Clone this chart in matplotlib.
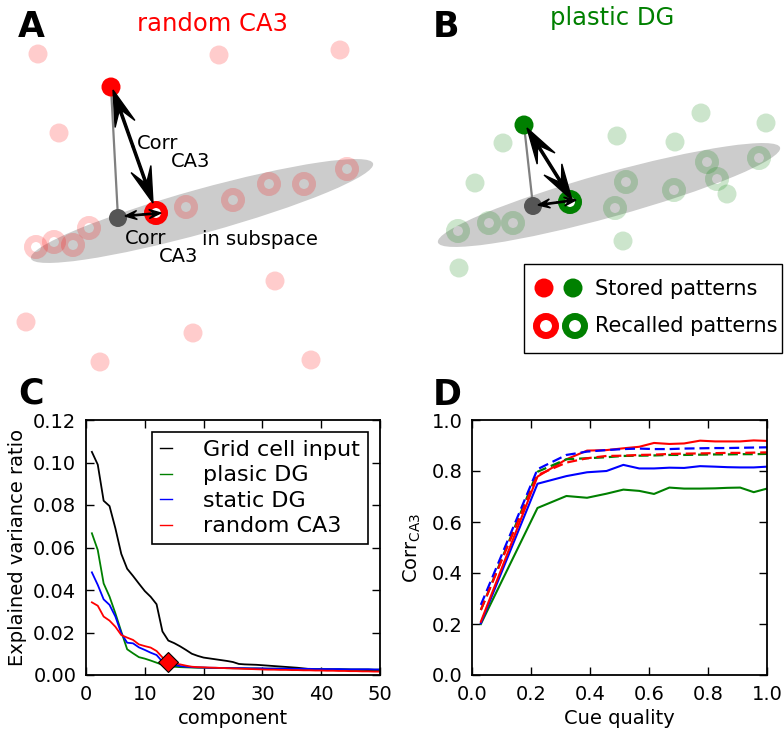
import matplotlib
matplotlib.use('Agg')
import matplotlib.pyplot as plt
from matplotlib.patches import Circle, Ellipse, Rectangle

plt.rcParams['font.family'] = ['DejaVu Sans']

# ---------------- schematic data (panels A, B), pixel space ----------------
a_bg_dots = [(38, 54), (219, 55), (340, 50), (59, 133), (275, 281), (26, 322),
             (193, 333), (100, 362), (311, 360)]
a_bg_rings = [(36, 247), (54, 242), (73, 245), (89, 228), (186, 207), (233, 200),
              (269, 184), (304, 184), (347, 169)]
a_stored = (111, 87)
a_recalled = (156, 213)
a_proj = (118, 218)
a_ellipse = (202, 211)

b_bg_dots = [(503, 143), (475, 183), (617, 136), (675, 142), (701, 113), (766, 123),
             (727, 194), (623, 241), (459, 268)]
b_bg_rings = [(458, 231), (489, 223), (513, 223), (615, 208), (626, 182), (674, 190),
              (707, 162), (717, 179), (759, 158)]
b_stored = (524, 125)
b_recalled = (570, 202)
b_proj = (533, 206)
b_ellipse = (609, 195)

# ---------------- panel C data ----------------
components = list(range(1, 51))
grid_input = [.105, .099, .082, .0795, .069, .057, .050, .0466, .043, .0395,
              .0368, .0333, .0205, .0162, .0150, .0135, .0118, .0100, .0090, .0082,
              .0078, .0074, .0070, .0066, .0061, .0052, .0050, .0049, .0048, .0046,
              .0044, .0042, .0040, .0038, .0036, .0034, .0031, .0028, .0027, .0026,
              .0026, .0025, .0025, .0025, .0024, .0024, .0024, .0023, .0023, .0022]
plastic_dg = [.0667, .0588, .0431, .0369, .029, .0204, .0121, .0102, .0084, .0077,
              .0068, .0058, .0048, .0042, .0039, .0037, .0036, .0035, .0034, .0034,
              .0033, .0033, .0033, .0032, .0032, .0032, .0031, .0031, .0031, .0030,
              .0030, .0030, .0030, .0029, .0029, .0029, .0028, .0028, .0028, .0028,
              .0027, .0027, .0027, .0027, .0026, .0026, .0026, .0026, .0025, .0025]
static_dg = [.0483, .0424, .0356, .0330, .0275, .0196, .0152, .0149, .0130, .0118,
             .0105, .0094, .0063, .0055, .0047, .0042, .0039, .0037, .0036, .0035,
             .0034, .0034, .0033, .0033, .0032, .0032, .0032, .0031, .0031, .0031,
             .0030, .0030, .0030, .0030, .0029, .0029, .0029, .0029, .0028, .0028,
             .0028, .0028, .0028, .0027, .0027, .0027, .0027, .0027, .0026, .0026]
random_ca3 = [.0342, .0326, .0275, .0256, .0227, .0188, .0176, .0165, .0144, .0136,
              .0129, .0113, .0083, .0063, .0055, .0050, .0044, .0039, .0037, .0036,
              .0035, .0034, .0033, .0032, .0031, .0030, .0029, .0028, .0027, .0026,
              .0025, .0025, .0024, .0024, .0023, .0023, .0022, .0022, .0021, .0021,
              .0020, .0020, .0019, .0019, .0018, .0018, .0017, .0017, .0016, .0016]
marked_component = 14
c_labels = ['Grid cell input', 'plasic DG', 'static DG', 'random CA3']

# ---------------- panel D data ----------------
cue_quality = [0.03, 0.222, 0.32, 0.39, 0.456, 0.513, 0.567, 0.617, 0.669, 0.719,
               0.773, 0.824, 0.866, 0.909, 0.955, 1.0]
green_solid = [0.200, 0.655, 0.702, 0.695, 0.711, 0.727, 0.722, 0.710, 0.735, 0.731,
               0.731, 0.732, 0.734, 0.735, 0.717, 0.731]
blue_solid = [0.203, 0.750, 0.780, 0.795, 0.800, 0.824, 0.810, 0.810, 0.813, 0.812,
              0.819, 0.817, 0.815, 0.814, 0.814, 0.817]
red_solid = [0.209, 0.778, 0.846, 0.880, 0.882, 0.889, 0.895, 0.910, 0.906, 0.908,
             0.919, 0.916, 0.916, 0.916, 0.920, 0.918]
green_dashed = [0.255, 0.797, 0.846, 0.850, 0.854, 0.859, 0.860, 0.861, 0.863, 0.863,
                0.864, 0.865, 0.865, 0.866, 0.866, 0.867]
blue_dashed = [0.275, 0.807, 0.863, 0.876, 0.882, 0.886, 0.888, 0.886, 0.886, 0.888,
               0.889, 0.890, 0.890, 0.891, 0.892, 0.893]
red_dashed = [0.255, 0.784, 0.833, 0.850, 0.859, 0.860, 0.863, 0.864, 0.867, 0.868,
              0.869, 0.870, 0.871, 0.871, 0.872, 0.873]

W, H = 784, 731
PT = 0.72  # points per pixel at dpi 100
fig = plt.figure(figsize=(W / 100, H / 100), dpi=100)

# ---------------- overlay for schematic panels ----------------
ax0 = fig.add_axes([0, 0, 1, 1])
ax0.set_xlim(0, W)
ax0.set_ylim(H, 0)
ax0.axis('off')

R_DOT = 9.5
R_RING = 8.5
RING_LW = 7 * PT


def schematic(ax, col, bg_dots, bg_rings, stored, recalled, proj, ell_c):
    ax.add_patch(Ellipse(ell_c, 355, 44, angle=-15.5, facecolor='#cccccc',
                         edgecolor='none', zorder=1))
    for (x, y) in bg_dots:
        ax.add_patch(Circle((x, y), R_DOT, facecolor=col, alpha=0.2,
                            edgecolor='none', zorder=2))
    for (x, y) in bg_rings:
        ax.add_patch(Circle((x, y), R_RING, facecolor='none', edgecolor=col,
                            lw=RING_LW, alpha=0.2, zorder=2))
    ax.plot([stored[0], proj[0]], [stored[1], proj[1]], color='#808080', lw=1.6,
            zorder=3)
    ax.add_patch(Circle(proj, 9, facecolor='#555555', edgecolor='none', zorder=4))
    ax.add_patch(Circle(recalled, R_RING, facecolor='white', edgecolor=col,
                        lw=RING_LW, zorder=4))
    ax.add_patch(Circle(stored, R_DOT, facecolor=col, edgecolor='none', zorder=4))


def double_arrow(ax, p0, p1, width, hw, hl):
    mx, my = (p0[0] + p1[0]) / 2, (p0[1] + p1[1]) / 2
    for (ex, ey) in (p0, p1):
        ax.arrow(mx, my, ex - mx, ey - my, width=width, head_width=hw,
                 head_length=hl, overhang=0.4, length_includes_head=True,
                 color='black', zorder=6)


schematic(ax0, 'red', a_bg_dots, a_bg_rings, a_stored, a_recalled, a_proj, a_ellipse)
schematic(ax0, 'green', b_bg_dots, b_bg_rings, b_stored, b_recalled, b_proj, b_ellipse)

double_arrow(ax0, (113, 90), (153, 203), 2.2, 21, 36)
double_arrow(ax0, (125, 216), (161, 213), 1.3, 9, 12)
double_arrow(ax0, (527, 128), (572, 200), 2.2, 21, 36)
double_arrow(ax0, (538, 205), (576, 200), 1.3, 9, 12)

ax0.text(18, 37, 'A', fontsize=25, fontweight='bold', ha='left', va='baseline')
ax0.text(433, 37, 'B', fontsize=25, fontweight='bold', ha='left', va='baseline')
ax0.text(18, 403, 'C', fontsize=25, fontweight='bold', ha='left', va='baseline')
ax0.text(433, 405, 'D', fontsize=25, fontweight='bold', ha='left', va='baseline')
ax0.text(213, 31, 'random CA3', color='red', fontsize=17.5, ha='center', va='baseline')
ax0.text(612, 25, 'plastic DG', color='green', fontsize=17.5, ha='center', va='baseline')

ax0.text(137, 149, 'Corr', fontsize=14, ha='left', va='baseline', zorder=7)
ax0.text(171, 167, 'CA3', fontsize=14, ha='left', va='baseline', zorder=7)
ax0.text(125, 244, 'Corr', fontsize=14, ha='left', va='baseline', zorder=7)
ax0.text(159, 262, 'CA3', fontsize=14, ha='left', va='baseline', zorder=7)
ax0.text(202, 245, 'in subspace', fontsize=14, ha='left', va='baseline', zorder=7)

# custom legend box for schematic
ax0.add_patch(Rectangle((524, 264), 258, 89, facecolor='white', edgecolor='black',
                        lw=1.0, zorder=5))
ax0.add_patch(Circle((544, 288), 9.5, facecolor='red', edgecolor='none', zorder=6))
ax0.add_patch(Circle((573, 288), 9.5, facecolor='green', edgecolor='none', zorder=6))
ax0.add_patch(Circle((546, 326), 9.5, facecolor='white', edgecolor='red',
                     lw=7 * PT, zorder=6))
ax0.add_patch(Circle((575, 326), 9.5, facecolor='white', edgecolor='green',
                     lw=7 * PT, zorder=6))
ax0.text(595, 289, 'Stored patterns', fontsize=15, ha='left', va='center', zorder=7)
ax0.text(595, 326, 'Recalled patterns', fontsize=15, ha='left', va='center', zorder=7)


def style_axes(ax):
    ax.tick_params(direction='in', top=True, right=True, length=5.5, width=1,
                   labelsize=14, pad=7)
    for s in ax.spines.values():
        s.set_linewidth(1.3)


# ---------------- panel C ----------------
axC = fig.add_axes([86 / W, 1 - 675 / H, 294 / W, 255 / H])
axC.plot(components, grid_input, color='black', lw=1.3, label=c_labels[0])
axC.plot(components, plastic_dg, color='green', lw=1.3, label=c_labels[1])
axC.plot(components, static_dg, color='blue', lw=1.3, label=c_labels[2])
axC.plot(components, random_ca3, color='red', lw=1.3, label=c_labels[3])
axC.plot([marked_component], [random_ca3[marked_component - 1]], marker='D',
         ms=10.5, color='red', mec='black', mew=0.8, zorder=5)
axC.set_xlim(0, 50)
axC.set_ylim(0, 0.12)
axC.set_xticks([0, 10, 20, 30, 40, 50])
axC.set_yticks([0, 0.02, 0.04, 0.06, 0.08, 0.10, 0.12])
axC.set_yticklabels(['%.2f' % v for v in [0, 0.02, 0.04, 0.06, 0.08, 0.10, 0.12]])
axC.set_xlabel('component', fontsize=14, labelpad=4)
axC.set_ylabel('Explained variance ratio', fontsize=14, labelpad=4)
style_axes(axC)
leg = axC.legend(loc='upper right', fontsize=16, handlelength=0.55, handletextpad=1.4,
                 labelspacing=0.25, borderpad=0.35, borderaxespad=0, fancybox=False,
                 framealpha=1, edgecolor='black', bbox_to_anchor=(0.959, 0.953))
leg.get_frame().set_linewidth(1.2)
for l in leg.get_lines():
    l.set_linewidth(1.0)

# ---------------- panel D ----------------
axD = fig.add_axes([472 / W, 1 - 675 / H, 295 / W, 255 / H])
axD.plot(cue_quality, green_solid, color='green', lw=1.5)
axD.plot(cue_quality, blue_solid, color='blue', lw=1.5)
axD.plot(cue_quality, red_solid, color='red', lw=1.5)
axD.plot(cue_quality, green_dashed, color='green', lw=1.6, dashes=(4.5, 2.2))
axD.plot(cue_quality, blue_dashed, color='blue', lw=1.6, dashes=(4.5, 2.2))
axD.plot(cue_quality, red_dashed, color='red', lw=1.6, dashes=(4.5, 2.2))
axD.set_xlim(0, 1)
axD.set_ylim(0, 1)
axD.set_xticks([0, 0.2, 0.4, 0.6, 0.8, 1.0])
axD.set_yticks([0, 0.2, 0.4, 0.6, 0.8, 1.0])
axD.set_xticklabels(['%.1f' % v for v in [0, 0.2, 0.4, 0.6, 0.8, 1.0]])
axD.set_yticklabels(['%.1f' % v for v in [0, 0.2, 0.4, 0.6, 0.8, 1.0]])
axD.set_xlabel('Cue quality', fontsize=14, labelpad=4)
axD.set_ylabel('Corr$_{\\mathrm{CA3}}$', fontsize=14, labelpad=6)
style_axes(axD)

fig.savefig('out.png', dpi=100)
